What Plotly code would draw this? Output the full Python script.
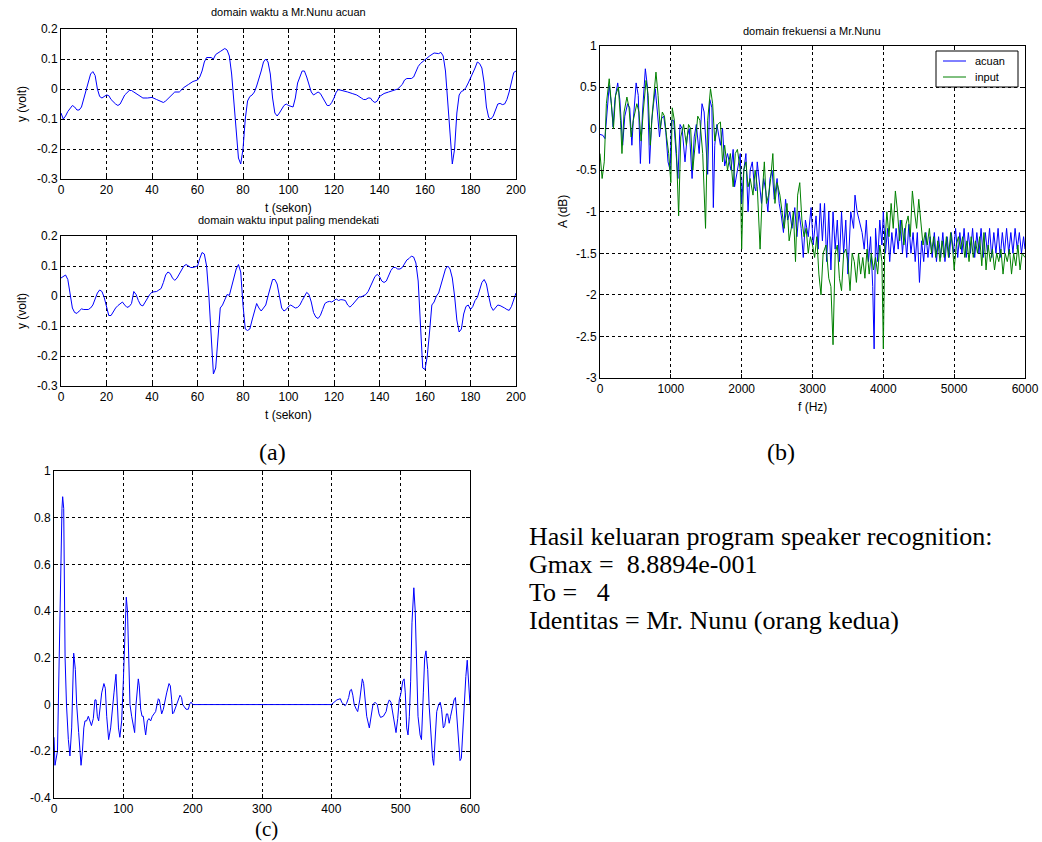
import plotly.graph_objects as go

W, H = 1042, 842

# ---------------- data: panel (a) top, acuan ----------------
t_acuan = [0,1,2,3,5,6,7,8,9,10,11,12,13,14,15,16,17,18,19,20,21,22,24,25,26,28,30,31,32,34,36,38,40,42,44,45,46,48,50,52,54,56,58,60,61,62,63,64,66,67,68,70,72,73,74,75,76,77,78,79,80,81,82,83,84,85,86,88,89,90,91,92,93,94,95,96,98,99,100,102,103,104,106,107,108,110,111,112,113,114,116,117,118,119,120,121,122,124,126,128,130,132,133,134,135,136,137,138,139,140,142,144,146,148,150,151,152,154,155,156,157,158,160,162,164,166,167,168,169,170,171,172,173,174,175,176,177,178,179,180,182,183,184,185,186,187,188,189,190,191,192,193,194,195,196,197,198,199,200]
y_acuan = [-0.08,-0.1,-0.09,-0.075,-0.055,-0.06,-0.07,-0.07,-0.06,-0.03,0.0,0.03,0.05,0.058,0.045,0.0,-0.025,-0.03,-0.025,-0.02,-0.022,-0.035,-0.05,-0.055,-0.05,-0.02,-0.005,-0.005,-0.01,-0.02,-0.03,-0.03,-0.028,-0.035,-0.04,-0.045,-0.04,-0.025,-0.01,-0.01,0.005,0.015,0.025,0.03,0.04,0.06,0.09,0.105,0.105,0.1,0.115,0.125,0.135,0.13,0.11,0.05,-0.05,-0.15,-0.23,-0.25,-0.2,-0.1,-0.04,-0.025,-0.02,-0.01,0.01,0.06,0.09,0.1,0.09,0.05,-0.03,-0.08,-0.09,-0.08,-0.055,-0.05,-0.055,-0.06,-0.03,0.02,0.06,0.06,0.04,-0.01,-0.02,-0.015,-0.01,-0.015,-0.04,-0.055,-0.055,-0.045,-0.03,-0.01,-0.002,-0.005,-0.01,-0.015,-0.02,-0.03,-0.035,-0.035,-0.03,-0.03,-0.04,-0.045,-0.04,-0.025,-0.015,-0.01,-0.005,0.0,0.015,0.03,0.035,0.035,0.04,0.06,0.075,0.085,0.098,0.11,0.12,0.118,0.122,0.11,0.06,-0.05,-0.15,-0.25,-0.2,-0.08,-0.02,-0.008,-0.005,0.005,0.02,0.035,0.07,0.09,0.085,0.07,0.02,-0.06,-0.095,-0.1,-0.09,-0.07,-0.05,-0.048,-0.052,-0.05,-0.035,-0.01,0.025,0.055,0.06]

# ---------------- data: panel (a) bottom, input ----------------
t_input = list(range(0, 201))
y_input = [0.06,0.065,0.07,0.055,0.0,-0.04,-0.055,-0.058,-0.05,-0.043,-0.045,-0.045,-0.045,-0.04,-0.03,-0.01,0.01,0.02,0.015,-0.005,
           -0.04,-0.065,-0.065,-0.05,-0.04,-0.032,-0.025,-0.02,-0.03,-0.038,-0.035,-0.025,0.015,0.005,-0.015,-0.03,-0.033,-0.02,-0.005,0.005,
           0.013,0.014,0.015,0.02,0.025,0.045,0.07,0.08,0.075,0.06,0.052,0.06,0.075,0.09,0.1,0.105,0.1,0.095,0.095,0.098,
           0.1,0.125,0.145,0.14,0.1,0.0,-0.15,-0.26,-0.24,-0.15,-0.04,-0.03,-0.01,0.005,0.002,0.03,0.06,0.09,0.105,0.08,
           -0.03,-0.11,-0.115,-0.11,-0.08,-0.05,-0.025,-0.04,-0.05,-0.04,-0.03,0.0,0.03,0.055,0.055,0.04,0.0,-0.04,-0.05,-0.045,
           -0.035,-0.03,-0.035,-0.04,-0.038,-0.03,-0.015,0.0,0.012,0.005,-0.02,-0.055,-0.07,-0.075,-0.065,-0.045,-0.025,-0.02,-0.018,-0.02,
           -0.015,-0.01,-0.015,-0.012,-0.013,-0.015,-0.03,-0.037,-0.03,-0.02,-0.01,-0.003,-0.003,0.0,0.005,0.015,0.03,0.045,0.065,0.072,
           0.065,0.05,0.045,0.05,0.07,0.085,0.095,0.095,0.09,0.09,0.095,0.11,0.12,0.125,0.133,0.13,0.11,0.05,-0.1,-0.24,
           -0.245,-0.2,-0.12,-0.03,-0.02,0.0,0.01,0.04,0.07,0.09,0.1,0.09,0.06,0.0,-0.08,-0.12,-0.11,-0.06,-0.035,-0.03,
           -0.045,-0.035,-0.015,-0.005,0.02,0.045,0.055,0.04,0.0,-0.035,-0.048,-0.04,-0.03,-0.032,-0.035,-0.04,-0.045,-0.048,-0.035,-0.01,
           0.01]

# ---------------- data: panel (b) spectra ----------------
f_acuan = [0,40,70,90,130,160,185,210,250,280,300,320,350,390,420,450,470,510,540,570,600,640,670,700,730,780,810,840,870,900,930,960,990,
           1010,1040,1070,1100,1130,1160,1200,1230,1260,1300,1330,1360,1400,1440,1470,1500,1520,1550,1580,1600,1620,1650,1700,1730,1760,1800,1850,1880,1900,1940,1980,
           2000,2030,2060,2090,2120,2150,2180,2200,2220,2250,2280,2310,2340,2370,2400,2430,2460,2500,2530,2560,2590,2620,2650,2680,2710,2750,2780,2810,2840,2870,2900,2940,2980,
           3010,3050,3080,3110,3140,3170,3200,3230,3260,3290,3320,3350,3380,3410,3440,3470,3500,3540,3580,3600,3630,3660,3700,3730,3760,3790,3820,3850,3870,3890,3920,3950,3980,
           4000,4030,4060,4090,4120,4150,4180,4210,4240,4270,4300,4330,4360,4390,4420,4450,4480,4510,4540,4570,4600,4630,4660,4690,4720,4750,4780,4810,4840,4870,4900,4930,4960,4990,
           5020,5050,5080,5110,5140,5170,5200,5230,5260,5290,5320,5350,5380,5410,5440,5470,5500,5530,5560,5590,5620,5650,5680,5710,5740,5770,5800,5830,5860,5890,5920,5950,5980,6000]
a_acuan = [-0.07,-0.08,-0.12,0.1,0.52,0.3,0.02,0.35,0.55,0.35,0.1,-0.2,0.15,0.3,0.25,-0.2,0.1,0.55,0.4,-0.42,0.2,0.72,0.5,-0.42,0.1,0.48,0.2,-0.1,0.12,0.15,-0.05,-0.4,-0.5,
           0.1,0.1,-0.3,-0.6,0.05,0.0,-0.4,-0.1,0.0,-0.6,-0.1,0.05,-0.3,0.3,0.2,-0.2,-0.55,0.35,0.25,-0.95,-0.2,0.05,-0.2,0.0,-0.45,-0.3,-0.5,-0.25,-0.7,-0.5,-0.3,
           -0.9,-0.5,-0.3,-1.0,-0.5,-0.4,-0.7,-0.75,-0.4,-0.7,-0.9,-0.6,-0.75,-1.0,-0.6,-0.5,-0.85,-0.6,-0.9,-1.05,-1.25,-0.85,-1.1,-1.0,-1.2,-0.95,-1.3,-1.0,-1.2,-1.55,-1.1,-1.3,-0.95,
           -1.4,-1.05,-1.45,-0.9,-1.35,-0.9,-1.6,-1.0,-1.7,-1.0,-1.45,-1.1,-1.6,-1.0,-1.5,-1.1,-1.75,-1.0,-1.2,-0.8,-1.0,-1.1,-1.25,-1.45,-1.1,-1.6,-1.3,-1.9,-2.65,-1.2,-1.6,-1.1,-1.4,
           -1.0,-1.5,-1.2,-1.6,-1.25,-1.5,-1.2,-1.45,-1.1,-1.5,-1.2,-1.55,-1.15,-1.5,-1.25,-1.6,-1.25,-1.85,-1.35,-1.6,-1.25,-1.55,-1.3,-1.55,-1.25,-1.6,-1.3,-1.55,-1.25,-1.6,-1.3,-1.55,-1.25,-1.5,
           -1.2,-1.55,-1.25,-1.5,-1.2,-1.55,-1.25,-1.5,-1.2,-1.55,-1.25,-1.5,-1.2,-1.55,-1.25,-1.5,-1.2,-1.55,-1.25,-1.5,-1.2,-1.55,-1.25,-1.5,-1.2,-1.5,-1.25,-1.5,-1.2,-1.45,-1.25,-1.5,-1.3,-1.45]

f_input = [0,30,60,90,130,160,190,220,260,290,310,340,380,410,440,470,520,550,580,610,650,680,710,740,790,820,850,880,910,940,970,
           1000,1020,1050,1080,1110,1140,1180,1220,1250,1280,1310,1340,1380,1410,1450,1490,1520,1560,1590,1620,1660,1700,1730,1760,1800,1840,1880,1910,1940,1980,
           2000,2030,2060,2090,2120,2160,2190,2220,2260,2290,2320,2350,2380,2410,2440,2470,2500,2540,2570,2600,2640,2670,2700,2730,2760,2790,2820,2850,2880,2910,2940,2970,
           3000,3030,3060,3090,3120,3150,3190,3230,3260,3290,3320,3350,3380,3410,3440,3470,3500,3530,3560,3590,3620,3650,3680,3710,3740,3770,3800,3830,3860,3890,3920,3950,3980,
           4000,4020,4050,4080,4110,4140,4170,4200,4230,4260,4290,4320,4350,4380,4410,4440,4470,4500,4530,4560,4590,4620,4650,4680,4710,4740,4770,4800,4830,4860,4890,4920,4950,4980,
           5000,5030,5060,5090,5120,5150,5180,5210,5240,5270,5300,5330,5360,5390,5420,5450,5480,5510,5540,5570,5600,5630,5660,5690,5720,5750,5780,5810,5840,5870,5900,5930,5960,6000]
a_input = [-0.3,-0.6,-0.4,0.3,0.6,0.3,0.0,0.4,0.5,0.1,-0.3,0.2,0.38,0.25,-0.1,0.1,0.3,0.2,-0.15,0.2,0.58,0.4,-0.2,0.2,0.68,0.4,0.0,0.2,0.15,-0.1,-0.3,
           -0.65,0.25,0.1,-0.3,-1.05,-0.1,0.05,-0.2,0.05,0.0,-0.5,-0.2,0.15,0.1,-0.3,-1.2,0.1,0.48,0.3,-0.15,0.05,0.08,-0.4,-0.2,-0.5,-0.3,-0.7,-0.3,-0.25,-0.5,
           -1.45,-0.5,-0.4,-0.7,-0.6,-0.8,-0.5,-0.7,-1.45,-0.8,-0.4,-0.9,-0.8,-0.6,-0.3,-0.9,-0.65,-0.8,-1.0,-1.2,-0.9,-1.35,-1.2,-1.0,-1.6,-0.8,-0.65,-1.1,-1.3,-1.2,-1.5,-1.3,
           -1.4,-1.55,-1.3,-1.75,-2.0,-1.5,-1.4,-1.8,-1.9,-2.6,-1.5,-1.4,-1.8,-1.95,-1.5,-1.45,-1.6,-1.95,-1.5,-1.6,-1.85,-1.5,-1.75,-1.55,-1.8,-1.45,-1.75,-1.5,-1.7,-1.55,-1.75,-1.4,-1.6,
           -2.65,-1.4,-1.0,-1.3,-0.9,-1.2,-0.75,-1.0,-1.35,-1.1,-1.4,-1.15,-1.05,-1.3,-0.75,-1.0,-1.2,-0.85,-1.15,-1.4,-1.25,-1.4,-1.2,-1.5,-1.3,-1.55,-1.35,-1.6,-1.35,-1.55,-1.3,-1.55,-1.25,-1.45,
           -1.7,-1.4,-1.3,-1.45,-1.3,-1.55,-1.35,-1.6,-1.3,-1.55,-1.35,-1.5,-1.3,-1.65,-1.25,-1.7,-1.4,-1.6,-1.45,-1.7,-1.5,-1.6,-1.45,-1.75,-1.5,-1.6,-1.45,-1.75,-1.5,-1.65,-1.4,-1.7,-1.5,-1.55]

# ---------------- data: panel (c) correlation ----------------
lag = [0,1.4,5,7.7,10,11.5,12.5,14,16,18,20.7,23,25.5,27,28.4,30.8,32.7,35.6,39,41,43,44.7,47,49.5,52,54,56.7,59,60.6,62.5,64.4,66.3,68.8,72,74,76,78.8,81.7,83.6,86.5,89.4,91.3,93,95,97.6,
       100,102.4,104.3,106,107.7,109.6,112,114.4,116.3,118.3,120.2,121.6,123,125,127,128.8,130.8,132.2,134.6,137,139.4,141.8,144.2,146.6,148.6,150.5,152,153.8,155.3,157.7,160,162.5,165.9,167.8,169.7,171,172.6,174.5,177,179.3,181.7,184,185.6,188,190.4,193.8,196,198,200,
       400,403.4,408,413,415,418,420,422,425,427,429,431,433,436,438,441,443,444.7,446.6,449,451,454.8,457,460,463,466.3,468.8,471,475,479,481,483.6,486,488.5,490.9,493.3,495.7,498,
       500.5,503,505,506.7,508.7,510.6,512.5,514.4,516.3,519,521,523,525,528,530,532.7,534.6,536.5,539,541,543.8,546,547.6,549.5,552,554.8,557,559,561.5,563.5,566,567.8,570,572,575,577,579,581,583,585.6,587.5,589.4,592,594,596,597.6,599,600]
corr = [-0.14,-0.26,-0.2,0.22,0.68,0.84,0.89,0.84,0.2,0.0,-0.15,-0.22,-0.1,0.15,0.22,0.15,0.0,-0.12,-0.26,-0.2,-0.1,-0.07,-0.07,-0.05,-0.07,-0.09,-0.06,0.02,0.02,-0.05,-0.07,-0.02,0.05,0.09,0.07,-0.05,-0.15,-0.1,-0.03,0.05,0.13,0.02,-0.1,-0.14,-0.07,
        0.1,0.35,0.46,0.4,0.2,0.0,-0.05,-0.1,-0.12,0.0,0.08,0.11,0.08,-0.02,-0.05,-0.05,-0.1,-0.13,-0.07,-0.06,-0.07,-0.05,-0.04,-0.03,0.0,0.025,0.02,-0.02,-0.04,-0.02,0.02,0.05,0.09,0.08,0.02,-0.04,-0.035,-0.02,0.0,0.02,0.04,0.03,0.0,-0.01,-0.02,-0.02,0.005,0.01,0.0,
        0.0,0.01,0.02,0.025,0.01,0.0,-0.005,0.005,0.03,0.06,0.065,0.04,0.0,-0.02,-0.03,0.02,0.08,0.11,0.09,0.02,-0.05,-0.1,-0.06,0.0,0.01,0.0,-0.04,-0.055,-0.05,-0.03,0.0,0.02,0.01,-0.03,-0.08,-0.12,-0.06,0.02,
        0.05,0.1,0.11,0.05,-0.1,-0.13,-0.05,0.1,0.35,0.5,0.4,0.15,-0.05,-0.13,-0.15,0.05,0.2,0.23,0.15,0.0,-0.15,-0.23,-0.26,-0.15,-0.03,0.0,0.01,-0.02,-0.1,-0.09,-0.04,-0.04,-0.08,-0.05,0.0,0.02,0.03,-0.05,-0.15,-0.24,-0.23,-0.12,0.0,0.12,0.19,0.12,0.05,0.0]

# ---------------- tick labels ----------------
ta_vals = [0,20,40,60,80,100,120,140,160,180,200]
ta_text = [str(v) for v in ta_vals]
ya_vals = [0.2,0.1,0,-0.1,-0.2,-0.3]
ya_text = ["0.2","0.1","0","-0.1","-0.2","-0.3"]
fb_vals = [0,1000,2000,3000,4000,5000,6000]
fb_text = [str(v) for v in fb_vals]
yb_vals = [1,0.5,0,-0.5,-1,-1.5,-2,-2.5,-3]
yb_text = ["1","0.5","0","-0.5","-1","-1.5","-2","-2.5","-3"]
xc_vals = [0,100,200,300,400,500,600]
xc_text = [str(v) for v in xc_vals]
yc_vals = [1,0.8,0.6,0.4,0.2,0,-0.2,-0.4]
yc_text = ["1","0.8","0.6","0.4","0.2","0","-0.2","-0.4"]
legend_names = ["acuan", "input"]

BLUE = "#0000FF"
GREEN = "#008000"

# helpers: convert window pixel positions to paper fractions
def fx(x):
    return x / W

def fy(y):
    return 1 - y / H

def ax(domain, rng, vals, text, anchor, fs=12):
    return dict(domain=domain, range=rng, tickvals=vals, ticktext=text, anchor=anchor,
                showline=True, mirror="ticks", linecolor="#000000", linewidth=1,
                ticks="inside", ticklen=4, tickcolor="#000000", tickwidth=1,
                showgrid=True, gridcolor="#000000", gridwidth=1, griddash="3px,3px",
                zeroline=False, fixedrange=True, automargin=False,
                tickfont=dict(family="Arial, Liberation Sans", size=fs, color="#000000"))

fig = go.Figure()
fig.add_trace(go.Scatter(x=t_acuan, y=y_acuan, mode="lines", line=dict(color=BLUE, width=1),
                         xaxis="x", yaxis="y", showlegend=False))
fig.add_trace(go.Scatter(x=t_input, y=y_input, mode="lines", line=dict(color=BLUE, width=1),
                         xaxis="x2", yaxis="y2", showlegend=False))
fig.add_trace(go.Scatter(x=f_acuan, y=a_acuan, mode="lines", line=dict(color=BLUE, width=1),
                         xaxis="x3", yaxis="y3", name=legend_names[0], showlegend=False))
fig.add_trace(go.Scatter(x=f_input, y=a_input, mode="lines", line=dict(color=GREEN, width=1),
                         xaxis="x3", yaxis="y3", name=legend_names[1], showlegend=False))
fig.add_trace(go.Scatter(x=lag, y=corr, mode="lines", line=dict(color=BLUE, width=1),
                         xaxis="x4", yaxis="y4", showlegend=False))

fig.update_layout(
    width=W, height=H, margin=dict(l=0, r=0, t=0, b=0, autoexpand=False),
    paper_bgcolor="white", plot_bgcolor="white", showlegend=False, hovermode=False,
    xaxis=ax([fx(61), fx(516)], [0, 200], ta_vals, ta_text, "y"),
    yaxis=ax([fy(179), fy(29)], [-0.3, 0.2], ya_vals, ya_text, "x"),
    xaxis2=ax([fx(61), fx(516)], [0, 200], ta_vals, ta_text, "y2"),
    yaxis2=ax([fy(386), fy(236)], [-0.3, 0.2], ya_vals, ya_text, "x2"),
    xaxis3=ax([fx(600), fx(1025)], [0, 6000], fb_vals, fb_text, "y3"),
    yaxis3=ax([fy(378), fy(45.5)], [-3, 1], yb_vals, yb_text, "x3"),
    xaxis4=ax([fx(54), fx(470)], [0, 600], xc_vals, xc_text, "y4"),
    yaxis4=ax([fy(798), fy(471)], [-0.4, 1], yc_vals, yc_text, "x4"),
)

def label(text, x, y, size=11, angle=0, family="Arial, Liberation Sans", xanchor="center"):
    fig.add_annotation(text=text, x=fx(x), y=fy(y), xref="paper", yref="paper",
                       showarrow=False, textangle=angle, xanchor=xanchor, yanchor="middle",
                       font=dict(family=family, size=size, color="#000000"))

# legend box for panel (b)
fig.add_shape(type="rect", xref="paper", yref="paper",
              x0=fx(936), x1=fx(1018), y0=fy(87), y1=fy(51),
              line=dict(color="#000000", width=1), fillcolor="white", layer="above")
for name, col, yy in [(legend_names[0], BLUE, 61), (legend_names[1], GREEN, 77)]:
    fig.add_shape(type="line", xref="paper", yref="paper",
                  x0=fx(943), x1=fx(966), y0=fy(yy), y1=fy(yy),
                  line=dict(color=col, width=1), layer="above")
    label(name, 973, yy, size=11, xanchor="left")

label("domain waktu a Mr.Nunu acuan", 288, 12)
label("t (sekon)", 288, 208, size=12)
label("domain waktu input paling mendekati", 288, 220)
label("t (sekon)", 288, 415, size=12)
label("y (volt)", 22, 104, size=12, angle=-90)
label("y (volt)", 22, 311, size=12, angle=-90)
label("domain frekuensi a Mr.Nunu", 812, 31)
label("f (Hz)", 812, 407, size=12)
label("A (dB)", 563, 212, size=12, angle=-90)

SERIF = "Liberation Serif, Times New Roman, serif"
label("(a)", 272, 452, size=24, family=SERIF)
label("(b)", 781, 452, size=24, family=SERIF)
label("(c)", 266, 829, size=21, family=SERIF)

label("Hasil keluaran program speaker recognition:", 527, 536, size=26, family=SERIF, xanchor="left")
label("Gmax =\u00a0 8.8894e-001", 527, 564, size=26, family=SERIF, xanchor="left")
label("To =\u00a0\u00a0 4", 527, 592, size=26, family=SERIF, xanchor="left")
label("Identitas = Mr. Nunu (orang kedua)", 527, 620, size=26, family=SERIF, xanchor="left")

# remove the browser's default 8px body margin so the figure fills the window exactly
fig.write_html("out.html",
               config={"displayModeBar": False, "staticPlot": True},
               post_script="document.body.style.margin='0';document.body.style.overflow='hidden';")
